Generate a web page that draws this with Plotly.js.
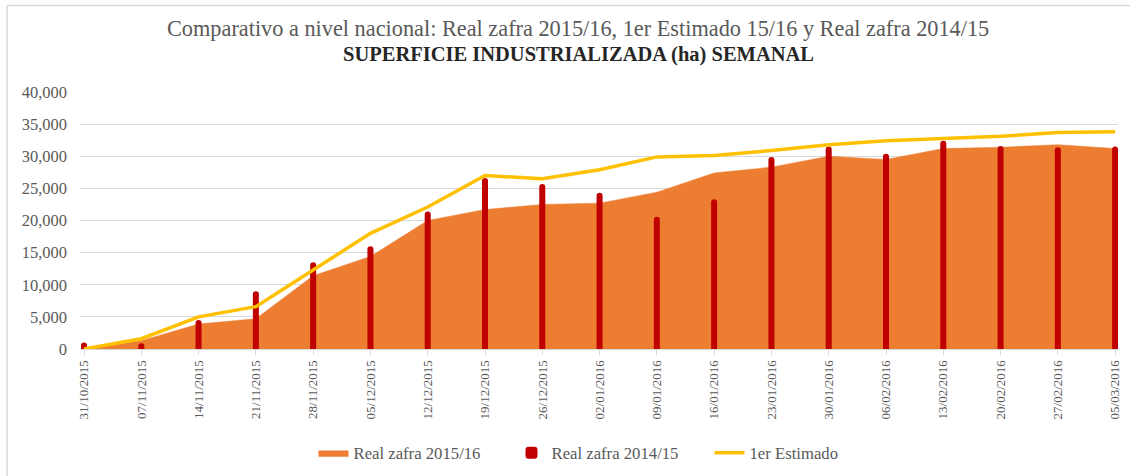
<!DOCTYPE html>
<html>
<head>
<meta charset="utf-8">
<script src="https://cdn.plot.ly/plotly-3.0.1.min.js"></script>
<style>
html,body{margin:0;padding:0;background:#fff;}
#chart{width:1130px;height:476px;}
</style>
</head>
<body>
<div id="chart"></div>
<script>
const categories = ["31/10/2015","07/11/2015","14/11/2015","21/11/2015","28/11/2015","05/12/2015","12/12/2015","19/12/2015","26/12/2015","02/01/2016","09/01/2016","16/01/2016","23/01/2016","30/01/2016","06/02/2016","13/02/2016","20/02/2016","27/02/2016","05/03/2016"];
const real1516 = [0,1300,3900,4700,11400,14400,20000,21700,22500,22700,24400,27400,28300,30000,29500,31200,31400,31800,31200];
const real1415 = [1000,900,4500,9000,13500,16000,21400,26600,25700,24300,20600,23300,29900,31500,30400,32400,31600,31400,31500];
const estimado = [0,1600,5000,6600,12300,18000,22100,27000,26500,27900,29900,30100,30900,31800,32400,32700,33100,33700,33800];
const yTickVals = [0,5000,10000,15000,20000,25000,30000,35000,40000];
const yTickText = ["0","5,000","10,000","15,000","20,000","25,000","30,000","35,000","40,000"];

const serif = "Liberation Serif, serif";
const idx = categories.map((c,i)=>i);

const traces = [
  {type:"scatter", mode:"lines", name:"Real zafra 2015/16", x:idx, y:real1516, yaxis:"y",
   fill:"tozeroy", fillcolor:"#ED7D31", line:{color:"#ED7D31", width:0.5}},
  {type:"bar", name:"Real zafra 2014/15", x:idx, y:real1415, width:0.105, yaxis:"y2",
   marker:{color:"#C00000", line:{width:0}}},
  {type:"scatter", mode:"lines", name:"1er Estimado", x:idx, y:estimado, yaxis:"y2",
   line:{color:"#FFC000", width:3.5}}
];

const yBase = {range:[0,40000], fixedrange:true};

const layout = {
  width:1130, height:476,
  margin:{l:80, r:12, t:92, b:127},
  paper_bgcolor:"#fff", plot_bgcolor:"#fff",
  font:{family:serif, color:"#595959"},
  barcornerradius:3,
  showlegend:true,
  legend:{orientation:"h", x:313.5/1130, xanchor:"left", xref:"container", yref:"container",
          y:1-453/476, yanchor:"middle", entrywidth:153, entrywidthmode:"pixels",
          font:{family:serif, size:16.7, color:"#595959"}, traceorder:"normal"},
  xaxis:{type:"linear", range:[-0.07,18.05], tickmode:"array", tickvals:idx, ticktext:categories,
         tickangle:-90, tickfont:{family:serif, size:13, color:"#595959"}, automargin:false,
         showgrid:false, zeroline:false, showline:true, linecolor:"#d9d9d9", linewidth:1,
         ticks:"outside", ticklen:5, tickcolor:"#d9d9d9", fixedrange:true},
  yaxis:Object.assign({tickmode:"array", tickvals:yTickVals, ticktext:yTickText, automargin:false,
         tickfont:{family:serif, size:16.5, color:"#595959"}, showgrid:true, gridcolor:"#d9d9d9",
         gridwidth:1, zeroline:false, showline:false, ticks:"", ticklabelstandoff:12}, yBase),
  yaxis2:Object.assign({overlaying:"y", side:"left", showgrid:false, showticklabels:false,
         zeroline:false, showline:false, ticks:"", automargin:false}, yBase),
  annotations:[
    {text:"Comparativo a nivel nacional: Real zafra 2015/16, 1er Estimado 15/16 y Real zafra 2014/15",
     xref:"paper", yref:"paper", x:(578-80)/1038, y:1+(92-28)/257, xanchor:"center", yanchor:"middle",
     showarrow:false, font:{family:serif, size:22.3, color:"#595959"}},
    {text:"SUPERFICIE INDUSTRIALIZADA (ha) SEMANAL",
     xref:"paper", yref:"paper", x:(578-80)/1038, y:1+(92-54)/257, xanchor:"center", yanchor:"middle",
     showarrow:false, font:{family:serif, weight:700, size:20.5, color:"#262626"}}
  ],
  shapes:[
    {type:"line", xref:"paper", yref:"paper", x0:(7-80)/1038, x1:(1130-80)/1038,
     y0:1+(92-5.5)/257, y1:1+(92-5.5)/257, line:{color:"#d9d9d9", width:1.5}},
    {type:"line", xref:"paper", yref:"paper", x0:(7-80)/1038, x1:(7-80)/1038,
     y0:1+(92-5.5)/257, y1:-(476-349)/257, line:{color:"#d9d9d9", width:1.5}}
  ]
};

Plotly.newPlot("chart", traces, layout, {displayModeBar:false, staticPlot:true});
</script>
</body>
</html>
